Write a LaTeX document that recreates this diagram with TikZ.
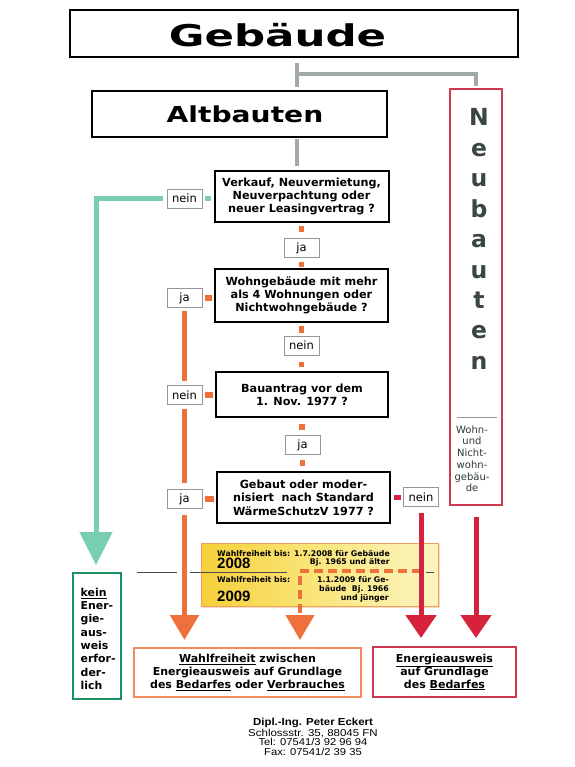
\documentclass[tikz,border=0pt]{standalone}
\usepackage{fontspec}
\setmainfont{DejaVu Sans}
\newfontfamily\arialf{Liberation Sans}
\usetikzlibrary{arrows.meta,shadows}
\definecolor{cOr}{RGB}{238,112,58}
\definecolor{cOrL}{RGB}{240,140,95}
\definecolor{cRd}{RGB}{214,34,58}
\definecolor{cRdB}{RGB}{205,55,80}
\definecolor{cGn}{RGB}{122,206,176}
\definecolor{cGnB}{RGB}{28,145,95}
\definecolor{cGy}{RGB}{160,170,170}
\definecolor{cLb}{RGB}{150,150,150}
\definecolor{cNeu}{RGB}{58,70,68}
\definecolor{cYs}{RGB}{246,208,58}
\definecolor{cYm}{RGB}{250,230,125}
\definecolor{cYp}{RGB}{252,245,195}
\definecolor{cYb}{RGB}{236,160,90}
\begin{document}
\begin{tikzpicture}[x=1pt,y=-1pt,
  qbox/.style={draw=black, line width=2pt, inner sep=0pt, align=center,
    font=\bfseries\fontsize{11.2}{13}\selectfont},
  lbl/.style={draw=cLb, line width=0.8pt, minimum width=35pt, minimum height=19pt,
    inner sep=0pt, font=\fontsize{11.5}{13}\selectfont},
  orc/.style={cOr, line width=5.5pt},
  rdc/.style={cRd, line width=5pt},
  grc/.style={cGn, line width=5pt},
  gyc/.style={cGy, line width=4pt},
  oarr/.style={cOr, line width=5.5pt, -{Triangle[length=25pt,width=28pt]}},
  rarr/.style={cRd, line width=5pt, -{Triangle[length=23pt,width=30pt]}},
  garr/.style={cGn, line width=5pt, -{Triangle[length=33pt,width=32pt]}},
  ytxt/.style={inner sep=0pt, font=\bfseries\fontsize{7.8}{8}\selectfont},
  ybig/.style={inner sep=0pt, font=\arialf\bfseries\fontsize{15}{15}\selectfont},
  btxt/.style={align=center, inner sep=0pt, font=\bfseries\fontsize{11}{13}\selectfont},
  ftxt/.style={inner sep=0pt, anchor=base, font=\arialf\fontsize{10}{10}\selectfont}
]
\useasboundingbox (0,0) rectangle (574,767);
\fill[white] (0,0) rectangle (574,767);

% top boxes
\node[draw=black, line width=1.6pt, minimum width=448pt, minimum height=47pt, inner sep=0pt] (geb) at (294,33.5) {};
\node[anchor=base, inner sep=0pt, font=\bfseries\fontsize{30}{32}\selectfont] (gebt) at (277.5,47) {\scalebox{1.45}[1]{Gebäude}};
\node[draw=black, line width=1.6pt, minimum width=295pt, minimum height=46pt, inner sep=0pt] (alt) at (239.5,114) {};
\node[anchor=base, inner sep=0pt, font=\bfseries\fontsize{22}{24}\selectfont] (altt) at (245,123) {\scalebox{1.28}[1]{Altbauten}};

% Neubauten
\node[draw=cRdB, line width=1.6pt, minimum width=52pt, minimum height=416pt, inner sep=0pt] (neu) at (476,297) {};
\foreach \l [count=\i from 0] in {N,e,u,b,a,u,t,e,n}
  \node[anchor=base, inner sep=0pt, text=cNeu, font=\bfseries\fontsize{23.5}{25}\selectfont] (nb\i) at (479,{126+30.4*\i}) {\l};
\draw[cLb, line width=0.8pt] (457,417) -- (497,417);
\node[anchor=north, inner sep=0pt, align=center, text=cNeu!80!black, font=\fontsize{10}{11.7}\selectfont] (nsub) at (472,425.4) {Wohn-\\und\\Nicht-\\wohn-\\gebäu-\\de};

% questions
\node[qbox, minimum width=174pt, minimum height=51pt] (q1) at (301.5,196.5) {Verkauf, Neuvermietung,\\Neuverpachtung oder\\neuer Leasingvertrag ?};
\node[qbox, minimum width=173pt, minimum height=53pt] (q2) at (301.5,295.5) {Wohngebäude mit mehr\\als 4 Wohnungen oder\\Nichtwohngebäude ?};
\node[qbox, minimum width=172pt, minimum height=45pt] (q3) at (302,394.5) {Bauantrag vor dem\\1. Nov. 1977 ?};
\node[qbox, minimum width=173pt, minimum height=51pt, font=\bfseries\fontsize{11.2}{13.5}\selectfont] (q4) at (303.5,497.5) {Gebaut oder moder-\\nisiert\ \ nach Standard\\WärmeSchutzV 1977 ?};

% labels
\node[lbl] (l1) at (184.5,198.5) {nein};
\node[lbl] (l2) at (301.5,248) {ja};
\node[lbl] (l3) at (184.5,298) {ja};
\node[lbl] (l4) at (301.5,345.5) {nein};
\node[lbl] (l5) at (184.5,395) {nein};
\node[lbl] (l6) at (302.5,445) {ja};
\node[lbl] (l7) at (184.5,499) {ja};
\node[lbl] (l8) at (421,497) {nein};

% gray connectors
\coordinate (gx) at (297,74);
\draw[gyc, shorten <=5pt, shorten >=3pt] (gx |- geb.south) -- (gx |- alt.north);
\draw[gyc, shorten >=2pt] (gx) -| (neu.north);
\draw[gyc, shorten <=1pt, shorten >=4pt] (gx |- alt.south) -- (gx |- q1.north);

% orange dashes between questions and labels
\draw[orc, shorten <=3pt, shorten >=6pt] (q1.south) -- (q1.south |- l2.north);
\draw[orc, shorten <=4pt, shorten >=1pt] (l2.south) -- (l2.south |- q2.north);
\draw[orc, shorten <=3pt, shorten >=3pt] (q2.south) -- (q2.south |- l4.north);
\draw[orc, shorten <=7pt, shorten >=4pt] (l4.south) -- (l4.south |- q3.north);
\draw[orc, shorten <=6pt, shorten >=5pt] (q3.south) -- (q3.south |- l6.north);
\draw[orc, shorten <=5pt, shorten >=5pt] (l6.south) -- (l6.south |- q4.north);
\draw[orc, shorten <=2.5pt, shorten >=2.5pt] (l3.east) -- (l3.east -| q2.west);
\draw[orc, shorten <=2.5pt, shorten >=2.5pt] (l5.east) -- (l5.east -| q3.west);
\draw[orc, shorten <=2.5pt, shorten >=2.5pt] (l7.east) -- (l7.east -| q4.west);
\draw[orc, shorten <=3pt, shorten >=4pt] (l3.south) -- (l5.north);
\draw[orc, shorten <=4pt, shorten >=6pt] (l5.south) -- (l7.north);
\draw[rdc, shorten <=2.5pt, shorten >=3pt] (l8.west) -- (l8.west -| q4.east);
\draw[grc, shorten <=2.5pt, shorten >=2.5pt] (l1.east) -- (l1.east -| q1.west);

% green branch
\node[draw=cGnB, line width=2.2pt, minimum width=48pt, minimum height=126pt, inner sep=0pt] (kein) at (97,636) {};
\node[anchor=north west, inner sep=0pt, align=left, font=\bfseries\fontsize{10.9}{13.3}\selectfont] (kt) at (80.5,587.8) {\underline{kein}\\Ener-\\gie-\\aus-\\weis\\erfor-\\der-\\lich};
\coordinate (gtip) at (96,565);
\draw[garr, shorten <=4pt] (l1.west) -| (gtip);

% yellow box
\node[draw=cYb, line width=0.9pt, minimum width=237pt, minimum height=63pt, inner sep=0pt,
  left color=cYs, right color=cYp, middle color=cYm,
  drop shadow={fill=cYb, opacity=0.35, shadow xshift=1.5pt, shadow yshift=-1.5pt}] (ybox) at (319.5,574.5) {};
\draw[black!70, line width=0.7pt] (137,572) -- (177,572) (190,572) -- (287,572) (426,572) -- (434,572);
\node[ytxt, anchor=base west] (y1) at (217,556) {Wahlfreiheit bis:};
\node[ybig, anchor=base west] (y2) at (217,568.5) {2008};
\node[ytxt, anchor=base east] (y3) at (390,556) {1.7.2008 für Gebäude};
\node[ytxt, anchor=base east] (y4) at (390,564) {Bj. 1965 und älter};
\node[ytxt, anchor=base west] (y5) at (217,582) {Wahlfreiheit bis:};
\node[ybig, anchor=base west] (y6) at (217,601.5) {2009};
\node[ytxt, anchor=base east] (y7) at (389,582.5) {1.1.2009 für Ge-};
\node[ytxt, anchor=base east] (y8) at (389,591) {bäude\ \ Bj. 1966};
\node[ytxt, anchor=base east] (y9) at (389,600) {und jünger};

% bottom boxes
\node[draw=cOrL, line width=2pt, minimum width=227pt, minimum height=49pt, btxt] (wbox) at (247.5,672.5) {\underline{Wahlfreiheit} zwischen\\Energieausweis auf Grundlage\\des \underline{Bedarfes} oder \underline{Verbrauches}};
\node[draw=cRdB, line width=2pt, minimum width=143pt, minimum height=50pt, btxt] (rbox) at (444.5,672) {\underline{Energieausweis}\\auf Grundlage\\des \underline{Bedarfes}};

% arrows
\coordinate (otip1) at (184.5,640);
\coordinate (rj) at (421,571);
\coordinate (dj) at (300,571);
\coordinate (otip2) at (300,640);
\coordinate (rtip1) at (421,638);
\coordinate (rtip2) at (476,638);
\draw[oarr, shorten <=6pt] (l7.south) -- (otip1);
\draw[oarr, line width=4.5pt, dash pattern=on 9pt off 5pt] (rj) -- (dj) -- (otip2);
\draw[rarr, shorten <=6pt] (l8.south) -- (rtip1);
\draw[rarr, shorten <=11pt] (neu.south) -- (rtip2);

% footer
\node[ftxt, font=\arialf\bfseries\fontsize{10.2}{10}\selectfont] (f1) at (313,725.5) {\scalebox{1.12}[1]{Dipl.-Ing. Peter Eckert}};
\node[ftxt] (f2) at (313,736) {\scalebox{1.15}[1]{Schlossstr. 35, 88045 FN}};
\node[ftxt] (f3) at (313,745.7) {\scalebox{1.12}[1]{Tel: 07541/3 92 96 94}};
\node[ftxt] (f4) at (313,755.4) {\scalebox{1.12}[1]{Fax: 07541/2 39 35}};
\end{tikzpicture}
\end{document}
